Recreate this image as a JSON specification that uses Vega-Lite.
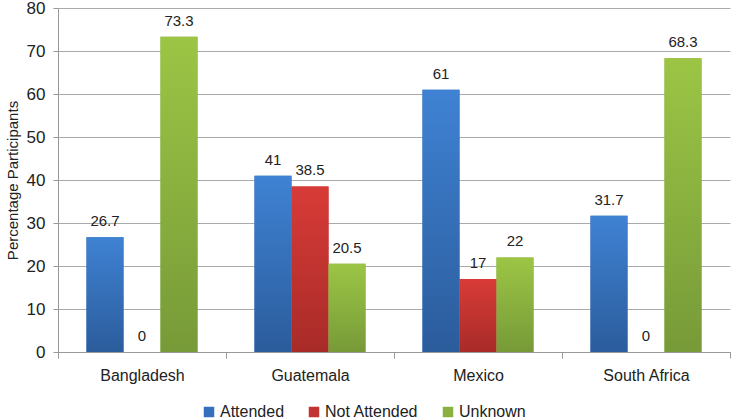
{
  "$schema": "https://vega.github.io/schema/vega-lite/v6.json",
  "width": 672,
  "height": 344,
  "autosize": "none",
  "padding": {"left": 58, "top": 8, "right": 2, "bottom": 67},
  "background": "white",
  "config": {
    "view": {"stroke": null},
    "font": "Liberation Sans",
    "axis": {"labelFont": "Liberation Sans", "titleFont": "Liberation Sans", "labelColor": "#222", "titleColor": "#222"},
    "legend": {"labelFont": "Liberation Sans"}
  },
  "data": {
    "values": [
      {"country": "Bangladesh", "group": "Attended", "value": 26.7},
      {"country": "Bangladesh", "group": "Not Attended", "value": 0},
      {"country": "Bangladesh", "group": "Unknown", "value": 73.3},
      {"country": "Guatemala", "group": "Attended", "value": 41},
      {"country": "Guatemala", "group": "Not Attended", "value": 38.5},
      {"country": "Guatemala", "group": "Unknown", "value": 20.5},
      {"country": "Mexico", "group": "Attended", "value": 61},
      {"country": "Mexico", "group": "Not Attended", "value": 17},
      {"country": "Mexico", "group": "Unknown", "value": 22},
      {"country": "South Africa", "group": "Attended", "value": 31.7},
      {"country": "South Africa", "group": "Not Attended", "value": 0},
      {"country": "South Africa", "group": "Unknown", "value": 68.3}
    ]
  },
  "encoding": {
    "x": {
      "field": "country", "type": "nominal", "sort": null,
      "scale": {"paddingInner": 0, "paddingOuter": 0},
      "axis": {"title": null, "labelAngle": 0, "labelFontSize": 16, "labelPadding": 9, "tickBand": "extent", "tickSize": 6, "tickColor": "#999", "domainColor": "#999", "grid": false}
    },
    "xOffset": {"field": "group", "type": "nominal", "scale": {"domain": ["Attended", "Not Attended", "Unknown"], "paddingInner": 0, "paddingOuter": 0.77}},
    "y": {
      "field": "value", "type": "quantitative",
      "scale": {"domain": [0, 80]},
      "axis": {"title": "Percentage Participants", "titleFontSize": 15, "titleFontWeight": "normal", "titlePadding": 6, "labelFontSize": 17, "labelPadding": 8, "tickCount": 8, "tickSize": 5, "tickColor": "#999", "domainColor": "#999", "gridColor": "#aaa", "grid": true}
    }
  },
  "layer": [
    {
      "mark": {"type": "bar"},
      "encoding": {
        "color": {
          "field": "group", "type": "nominal",
          "scale": {
            "domain": ["Attended", "Not Attended", "Unknown"],
            "range": ["#3570BC", "#C23431", "#8AB03F"]
          },
          "legend": {"title": null, "orient": "none", "legendX": 143, "legendY": 396, "direction": "horizontal", "symbolType": "square", "symbolSize": 110, "symbolStrokeWidth": 0, "symbolOpacity": 1, "labelFontSize": 16, "labelColor": "#222", "labelOffset": 3, "columnPadding": 21}
        }
      }
    },
    {
      "transform": [{"filter": "datum.group === 'Attended'"}],
      "mark": {"type": "bar", "fill": {"gradient": "linear", "x1": 0, "y1": 0, "x2": 0, "y2": 1, "stops": [{"offset": 0, "color": "#3F82D3"}, {"offset": 1, "color": "#2B5C9C"}]}}
    },
    {
      "transform": [{"filter": "datum.group === 'Not Attended'"}],
      "mark": {"type": "bar", "fill": {"gradient": "linear", "x1": 0, "y1": 0, "x2": 0, "y2": 1, "stops": [{"offset": 0, "color": "#D83B37"}, {"offset": 1, "color": "#A82B28"}]}}
    },
    {
      "transform": [{"filter": "datum.group === 'Unknown'"}],
      "mark": {"type": "bar", "fill": {"gradient": "linear", "x1": 0, "y1": 0, "x2": 0, "y2": 1, "stops": [{"offset": 0, "color": "#9CC545"}, {"offset": 1, "color": "#779A38"}]}}
    },
    {
      "mark": {"type": "text", "dy": -16, "fontSize": 15, "color": "#222"},
      "encoding": {"text": {"field": "value", "type": "quantitative", "format": "~g"}}
    }
  ]
}
